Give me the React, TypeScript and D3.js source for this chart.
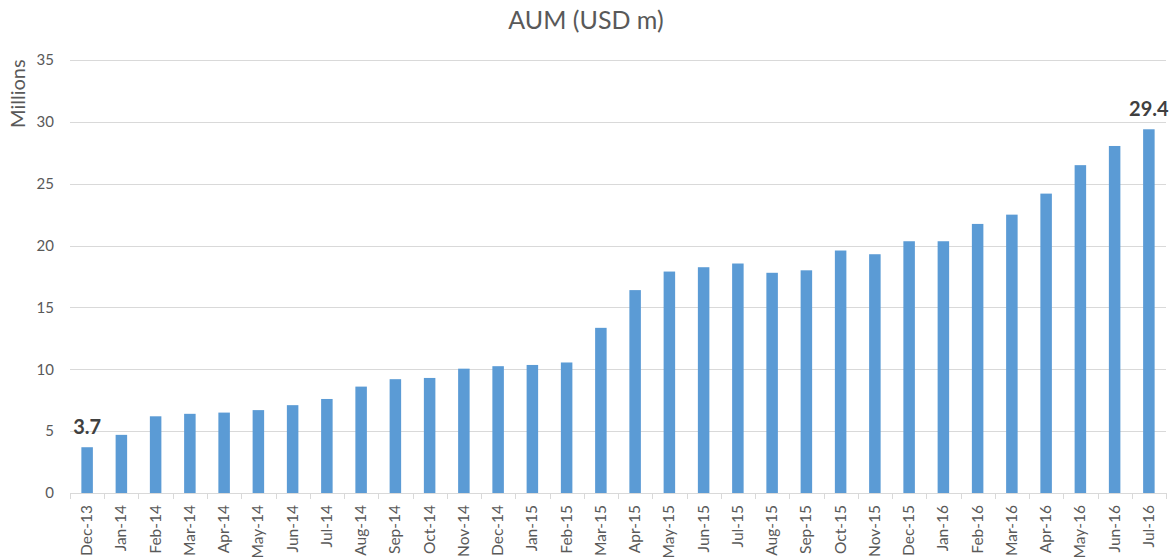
import React, { useEffect, useRef } from "react";
import * as d3 from "d3";

// monthly AUM, millions USD
const months = [
  "Dec-13", "Jan-14", "Feb-14", "Mar-14", "Apr-14", "May-14", "Jun-14", "Jul-14",
  "Aug-14", "Sep-14", "Oct-14", "Nov-14", "Dec-14", "Jan-15", "Feb-15", "Mar-15",
  "Apr-15", "May-15", "Jun-15", "Jul-15", "Aug-15", "Sep-15", "Oct-15", "Nov-15",
  "Dec-15", "Jan-16", "Feb-16", "Mar-16", "Apr-16", "May-16", "Jun-16", "Jul-16",
];
const aum = [
  3.7, 4.7, 6.2, 6.4, 6.5, 6.7, 7.1, 7.6,
  8.6, 9.2, 9.3, 10.05, 10.25, 10.35, 10.55, 13.35,
  16.4, 17.9, 18.25, 18.55, 17.8, 18.0, 19.6, 19.3,
  20.35, 20.35, 21.75, 22.5, 24.2, 26.5, 28.05, 29.4,
];
const yTicks = [0, 5, 10, 15, 20, 25, 30, 35];
const labelled = ["Dec-13", "Jul-16"];

const W = 1172;
const H = 558;
const FONT = "Lato, 'Open Sans', sans-serif";

export default function App() {
  const svgRef = useRef<SVGSVGElement>(null);

  useEffect(() => {
    const svg = d3.select(svgRef.current);
    svg.selectAll("*").remove();

    const left = 70;
    const right = 1166;
    const top = 60;
    const bottom = 493;

    const x = d3
      .scaleBand<string>()
      .domain(months)
      .range([left, right])
      .paddingInner(0.664)
      .paddingOuter(0.332);

    const y = d3.scaleLinear().domain([0, 35]).range([bottom, top]);

    // title
    svg
      .append("text")
      .attr("x", 586)
      .attr("y", 29)
      .attr("text-anchor", "middle")
      .style("font-family", FONT)
      .style("font-size", "25px")
      .style("fill", "#595959")
      .text("AUM (USD m)");

    // display units label
    svg
      .append("text")
      .attr("transform", "translate(25,128) rotate(-90)")
      .attr("text-anchor", "start")
      .style("font-family", FONT)
      .style("font-size", "20px")
      .style("fill", "#595959")
      .text("Millions");

    // gridlines
    svg
      .append("g")
      .selectAll("line")
      .data(yTicks.filter((t) => t > 0))
      .join("line")
      .attr("x1", left)
      .attr("x2", right)
      .attr("y1", (d) => Math.round(y(d)) + 0.5)
      .attr("y2", (d) => Math.round(y(d)) + 0.5)
      .attr("stroke", "#d9d9d9")
      .attr("stroke-width", 1);

    // y tick labels
    svg
      .append("g")
      .selectAll("text")
      .data(yTicks)
      .join("text")
      .attr("x", 54)
      .attr("y", (d) => y(d))
      .attr("dy", "0.35em")
      .attr("text-anchor", "end")
      .style("font-family", FONT)
      .style("font-size", "15px")
      .style("fill", "#595959")
      .text((d) => d);

    // bars
    svg
      .append("g")
      .selectAll("rect")
      .data(months)
      .join("rect")
      .attr("x", (d) => x(d)!)
      .attr("width", x.bandwidth())
      .attr("y", (d, i) => y(aum[i]))
      .attr("height", (d, i) => y(0) - y(aum[i]))
      .attr("fill", "#5b9bd5");

    // x axis line and tick marks between categories
    const step = x.step();
    const bounds = months.map((m) => x(m)! - step * x.paddingOuter());
    bounds.push(right);
    const axis = svg.append("g");
    axis
      .append("line")
      .attr("x1", left)
      .attr("x2", right)
      .attr("y1", bottom + 0.5)
      .attr("y2", bottom + 0.5)
      .attr("stroke", "#d9d9d9");
    axis
      .selectAll("line.tick")
      .data(bounds)
      .join("line")
      .attr("class", "tick")
      .attr("x1", (d) => Math.round(d) + 0.5)
      .attr("x2", (d) => Math.round(d) + 0.5)
      .attr("y1", bottom)
      .attr("y2", bottom + 6)
      .attr("stroke", "#d9d9d9");

    // x labels, rotated
    svg
      .append("g")
      .selectAll("text")
      .data(months)
      .join("text")
      .attr(
        "transform",
        (d) => `translate(${x(d)! + x.bandwidth() / 2 + 5},505) rotate(-90)`
      )
      .attr("text-anchor", "end")
      .style("font-family", FONT)
      .style("font-size", "15.5px")
      .style("fill", "#595959")
      .text((d) => d);

    // data labels on first and last bars
    svg
      .append("g")
      .selectAll("text")
      .data(labelled)
      .join("text")
      .attr("x", (d) => x(d)! + x.bandwidth() / 2)
      .attr("y", (d) => y(aum[months.indexOf(d)]) - 13)
      .attr("text-anchor", "middle")
      .style("font-family", FONT)
      .style("font-size", "20px")
      .style("font-weight", "bold")
      .style("fill", "#404040")
      .text((d) => aum[months.indexOf(d)].toFixed(1));
  }, []);

  return (
    <svg
      ref={svgRef}
      width={W}
      height={H}
      style={{ position: "absolute", left: 0, top: 0, background: "#fff" }}
    />
  );
}
